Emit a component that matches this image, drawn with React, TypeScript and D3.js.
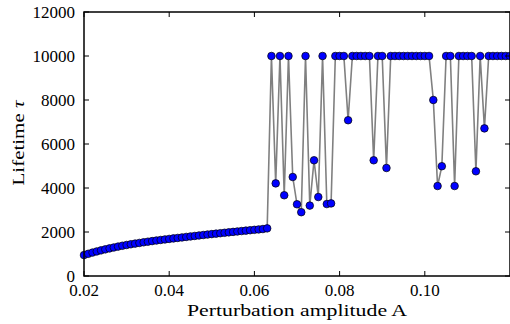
import React from "react";
import * as d3 from "d3";

const amplitudes: number[] = d3.range(20, 121).map((i) => i / 1000);

const smoothLifetimes: number[] = [
  950, 1010, 1065, 1117, 1165, 1211, 1255, 1297, 1337, 1375,
  1410, 1442, 1473, 1503, 1532, 1560, 1587, 1613, 1638, 1662,
  1685, 1708, 1730, 1753, 1776, 1798, 1820, 1842, 1863, 1884,
  1905, 1925, 1945, 1965, 1985, 2005, 2024, 2043, 2062, 2081,
  2099, 2117, 2135, 2165,
];

const chaoticLifetimes: number[] = [
  10000, 4210, 10000, 3670, 10000, 4500, 3260, 2900, 10000, 3200,
  5260, 3590, 10000, 3270, 3300, 10000, 10000, 10000, 7080, 10000,
  10000, 10000, 10000, 10000, 5260, 10000, 10000, 4910, 10000, 10000,
  10000, 10000, 10000, 10000, 10000, 10000, 10000, 10000, 8000, 4090,
  4990, 10000, 10000, 4090, 10000, 10000, 10000, 10000, 4760, 10000,
  6710, 10000, 10000, 10000, 10000, 10000, 10000,
];

const lifetimes: number[] = [...smoothLifetimes, ...chaoticLifetimes];

const xTicks: number[] = [0.02, 0.04, 0.06, 0.08, 0.1];
const xTickLabels: string[] = ["0.02", "0.04", "0.06", "0.08", "0.10"];
const yTicks: number[] = [0, 2000, 4000, 6000, 8000, 10000, 12000];

const W = 510;
const H = 324;
const left = 84;
const right = 510;
const top = 12;
const bottom = 276;
const font = "'Liberation Serif', 'Times New Roman', serif";

export default function App() {
  const x = d3.scaleLinear().domain([0.02, 0.12]).range([left, right]);
  const y = d3.scaleLinear().domain([0, 12000]).range([bottom, top]);
  const data = amplitudes.map((a, i) => ({ a, v: lifetimes[i] })).filter((d) => d.v !== undefined);
  const line = d3
    .line<{ a: number; v: number }>()
    .x((d) => x(d.a))
    .y((d) => y(d.v));
  const tl = 5;
  return (
    <svg
      width={W}
      height={H}
      style={{ position: "absolute", left: 0, top: 0, background: "#fff" }}
    >
      <rect x={0} y={0} width={W} height={H} fill="#fff" />
      <path d={line(data) || ""} fill="none" stroke="#808080" strokeWidth={1.6} />
      {data.map((d, i) => (
        <circle
          key={i}
          cx={x(d.a)}
          cy={y(d.v)}
          r={3.8}
          fill="#0000ff"
          stroke="#000"
          strokeWidth={0.7}
        />
      ))}
      <rect
        x={left}
        y={top}
        width={right - left}
        height={bottom - top}
        fill="none"
        stroke="#000"
        strokeWidth={1.5}
      />
      {xTicks.map((t, i) => (
        <g key={"xt" + i}>
          <line x1={x(t)} x2={x(t)} y1={bottom} y2={bottom - tl} stroke="#000" strokeWidth={1} />
          <line x1={x(t)} x2={x(t)} y1={top} y2={top + tl} stroke="#000" strokeWidth={1} />
          <text
            x={x(t)}
            y={296}
            textAnchor="middle"
            fontFamily={font}
            fontSize={17}
            fill="#000"
          >
            {xTickLabels[i]}
          </text>
        </g>
      ))}
      {yTicks.map((t, i) => (
        <g key={"yt" + i}>
          <line x1={left} x2={left + tl} y1={y(t)} y2={y(t)} stroke="#000" strokeWidth={1} />
          <line x1={right} x2={right - tl} y1={y(t)} y2={y(t)} stroke="#000" strokeWidth={1} />
          <text
            x={75}
            y={y(t)}
            dy="0.35em"
            textAnchor="end"
            fontFamily={font}
            fontSize={17}
            fill="#000"
          >
            {t}
          </text>
        </g>
      ))}
      <text
        x={297}
        y={316}
        textAnchor="middle"
        fontFamily={font}
        fontSize={17}
        textLength={220}
        lengthAdjust="spacingAndGlyphs"
        fill="#000"
      >
        Perturbation amplitude A
      </text>
      <text
        transform={`translate(24, 143) rotate(-90)`}
        textAnchor="middle"
        fontFamily={font}
        fontSize={17}
        textLength={85}
        lengthAdjust="spacingAndGlyphs"
        fill="#000"
      >
        Lifetime <tspan fontStyle="italic">τ</tspan>
      </text>
    </svg>
  );
}
